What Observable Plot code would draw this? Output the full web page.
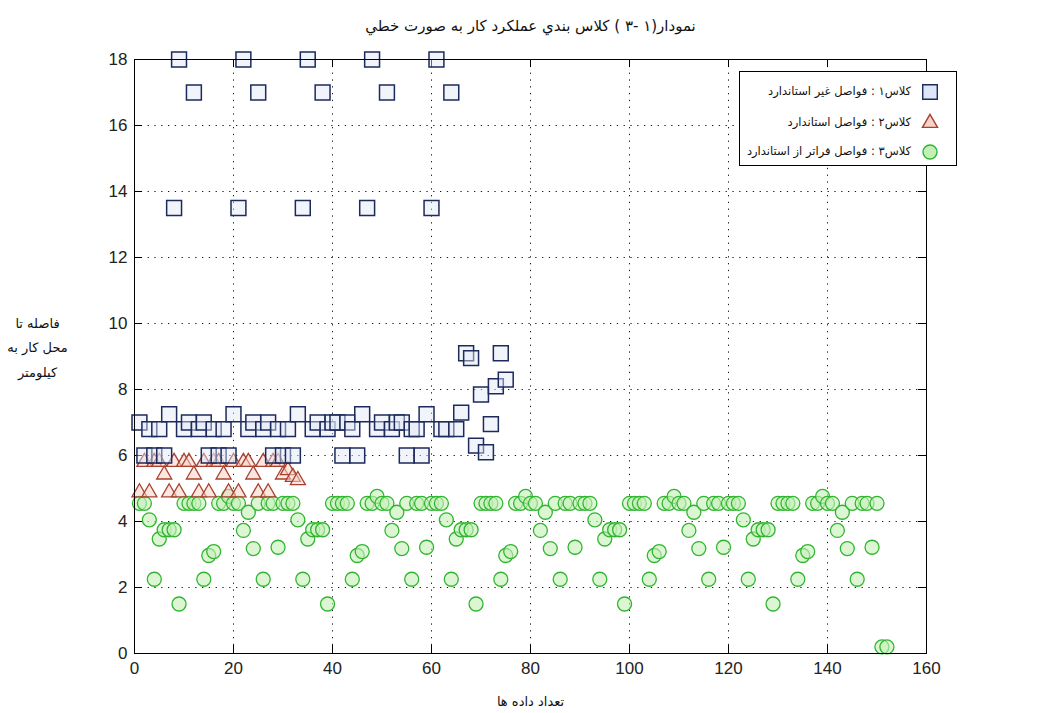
<!DOCTYPE html>
<html>
<head>
<meta charset="utf-8">
<script src="https://cdn.jsdelivr.net/npm/d3@7"></script>
<script src="https://cdn.jsdelivr.net/npm/@observablehq/plot@0.6"></script>
<style>
  html, body { margin: 0; padding: 0; background: #fff; }
  #wrap { position: relative; width: 1055px; height: 713px; }
  #legend {
    position: absolute; left: 739px; top: 71px; width: 218px; height: 95px;
    border: 1px solid #000; background: #fff; box-sizing: border-box;
    font-family: "DejaVu Sans", sans-serif; font-size: 11.5px; color: #111;
  }
  #legend .row { position: absolute; right: 16px; display: flex; align-items: center; gap: 9px; direction: ltr; }
  #legend .row span { direction: rtl; unicode-bidi: isolate; }
</style>
</head>
<body>
<div id="wrap"></div>
<script>
// Class 1: non-standard distances (km), one value per record
const class1 = [
  7.0, 6.0, 6.8, 6.0, 6.8, 6.0, 7.25, 13.5, 18, 6.8, 7.0, 17, 6.8,
  7.0, 6.0, 6.8, 6.0, 6.8, 6.0, 7.25, 13.5, 18, 6.8, 7.0, 17, 6.8,
  7.0, 6.0, 6.8, 6.0, 6.8, 6.0, 7.25, 13.5, 18, 6.8, 7.0, 17, 6.8,
  7.0, 7.0, 6.0, 7.0, 6.8, 6.0, 7.25, 13.5, 18, 6.8, 7.0, 17, 6.8,
  7.0, 7.0, 6.0, 6.8, 6.8, 6.0, 7.25, 13.5, 18, 6.8, 6.8, 17, 6.8,
  7.3, 9.1, 8.95, 6.3, 7.85, 6.1, 6.95, 8.1, 9.1, 8.3
];
// Class 2: standard distances
const class2 = [
  4.88, 5.8, 4.88, 5.8, 5.8, 5.42,
  4.88, 5.8, 4.88, 5.8, 5.8, 5.42,
  4.88, 5.8, 4.88, 5.8, 5.8, 5.42,
  4.88, 5.8, 4.88, 5.8, 5.8, 5.42,
  4.88, 5.8, 4.88, 5.8, 5.8, 5.42,
  5.55, 5.35, 5.25
];
// Class 3: beyond-standard distances
const class3 = [
  4.55, 4.55, 4.05, 2.25, 3.47, 3.75, 3.75, 3.75, 1.5, 4.55, 4.55, 4.55, 4.55, 2.25, 2.97,
  3.09, 4.55, 4.55, 4.76, 4.55, 4.55, 3.73, 4.28, 3.18, 4.55, 2.25, 4.55, 4.55, 3.22, 4.55,
  4.55, 4.55, 4.05, 2.25, 3.47, 3.75, 3.75, 3.75, 1.5, 4.55, 4.55, 4.55, 4.55, 2.25, 2.97,
  3.09, 4.55, 4.55, 4.76, 4.55, 4.55, 3.73, 4.28, 3.18, 4.55, 2.25, 4.55, 4.55, 3.22, 4.55,
  4.55, 4.55, 4.05, 2.25, 3.47, 3.75, 3.75, 3.75, 1.5, 4.55, 4.55, 4.55, 4.55, 2.25, 2.97,
  3.09, 4.55, 4.55, 4.76, 4.55, 4.55, 3.73, 4.28, 3.18, 4.55, 2.25, 4.55, 4.55, 3.22, 4.55,
  4.55, 4.55, 4.05, 2.25, 3.47, 3.75, 3.75, 3.75, 1.5, 4.55, 4.55, 4.55, 4.55, 2.25, 2.97,
  3.09, 4.55, 4.55, 4.76, 4.55, 4.55, 3.73, 4.28, 3.18, 4.55, 2.25, 4.55, 4.55, 3.22, 4.55,
  4.55, 4.55, 4.05, 2.25, 3.47, 3.75, 3.75, 3.75, 1.5, 4.55, 4.55, 4.55, 4.55, 2.25, 2.97,
  3.09, 4.55, 4.55, 4.76, 4.55, 4.55, 3.73, 4.28, 3.18, 4.55, 2.25, 4.55, 4.55, 3.22, 4.55,
  0.2, 0.2
];
const xTicks = [0, 20, 40, 60, 80, 100, 120, 140, 160];
const yTicks = [0, 2, 4, 6, 8, 10, 12, 14, 16, 18];

const titleText = "نمودار(۱ -۳ ) كلاس بندي عملكرد كار به صورت خطي";
const xLabel = "تعداد داده ها";
const yLabelLines = ["فاصله تا", "محل كار به", "كيلومتر"];

const colors = {
  c1: {stroke: "#1d2a5c", fill: "#dfe6f7"},
  c2: {stroke: "#a8402f", fill: "#f7d2c6"},
  c3: {stroke: "#30b530", fill: "#c4f0b8"}
};

const legendItems = [
  {label: "كلاس۱ : فواصل غير استاندارد", symbol: d3.symbolSquare, r: 8.2, ...colors.c1},
  {label: "كلاس۲ : فواصل استاندارد", symbol: d3.symbolTriangle, r: 5.6, ...colors.c2},
  {label: "كلاس۳ : فواصل فراتر از استاندارد", symbol: d3.symbolCircle, r: 7, ...colors.c3}
];

const toPoints = (values) => values.map((v, i) => ({i: i + 1, v}));
const W = 1055, H = 713;
const mL = 134, mR = 129, mT = 59, mB = 60;
const fw = W - mL - mR, fh = H - mT - mB;
const tick = 8;
const grid = {stroke: "#000", strokeWidth: 1, strokeDasharray: "1.3,5.5", strokeOpacity: 0.9};
const persian = {fontFamily: "DejaVu Sans", fill: "#111"};

const chart = Plot.plot({
  width: W, height: H,
  marginLeft: mL, marginRight: mR, marginTop: mT, marginBottom: mB,
  x: {domain: [0, 160], ticks: xTicks},
  y: {domain: [0, 18], ticks: yTicks},
  style: {fontFamily: "'Liberation Sans', Arial, sans-serif", fontSize: "17px", color: "#222", background: "#fff"},
  marks: [
    Plot.ruleX(xTicks.slice(1, -1), {...grid}),
    Plot.ruleY(yTicks.slice(1, -1), {...grid}),
    // inward tick marks on all four sides
    Plot.tickX(xTicks, {x: d => d, stroke: "#000", insetTop: fh - tick}),
    Plot.tickX(xTicks, {x: d => d, stroke: "#000", insetBottom: fh - tick}),
    Plot.tickY(yTicks, {y: d => d, stroke: "#000", insetRight: fw - tick}),
    Plot.tickY(yTicks, {y: d => d, stroke: "#000", insetLeft: fw - tick}),
    Plot.axisX({ticks: xTicks, tickSize: 0, tickPadding: 8, label: null, fontSize: 17}),
    Plot.axisY({ticks: yTicks, tickSize: 0, tickPadding: 7, label: null, fontSize: 17}),
    Plot.dot(toPoints(class3), {x: "i", y: "v", symbol: "circle", r: 7, stroke: colors.c3.stroke, strokeWidth: 1.3, fill: colors.c3.fill, fillOpacity: 0.6}),
    Plot.dot(toPoints(class2), {x: "i", y: "v", symbol: "triangle", r: 5.6, stroke: colors.c2.stroke, strokeWidth: 1.3, fill: colors.c2.fill, fillOpacity: 0.55}),
    Plot.dot(toPoints(class1), {x: "i", y: "v", symbol: "square", r: 8.4, stroke: colors.c1.stroke, strokeWidth: 1.5, fill: colors.c1.fill, fillOpacity: 0.45}),
    Plot.frame({stroke: "#000", strokeWidth: 1}),
    Plot.text([titleText], {frameAnchor: "top", dy: -39, fontSize: 15, ...persian}),
    Plot.text([xLabel], {frameAnchor: "bottom", dy: 52, fontSize: 13, ...persian}),
    Plot.text([yLabelLines.join("\n")], {frameAnchor: "left", dx: -97, dy: -12, fontSize: 13, lineHeight: 1.9, textAnchor: "middle", ...persian})
  ]
});

const wrap = document.getElementById("wrap");
wrap.appendChild(chart);

// legend box over the upper-right corner of the plot
const legend = document.createElement("div");
legend.id = "legend";
const rowsY = [19, 50, 79];
legendItems.forEach((item, k) => {
  const row = document.createElement("div");
  row.className = "row";
  row.style.top = (rowsY[k] - 9) + "px";
  const span = document.createElement("span");
  span.setAttribute("dir", "rtl");
  span.textContent = item.label;
  const sym = d3.create("svg").attr("width", 20).attr("height", 18);
  sym.append("path")
    .attr("transform", "translate(10,10)")
    .attr("d", d3.symbol(item.symbol, Math.PI * item.r * item.r)())
    .attr("fill", item.fill).attr("stroke", item.stroke).attr("stroke-width", 1.4);
  row.appendChild(span);
  row.appendChild(sym.node());
  legend.appendChild(row);
});
wrap.appendChild(legend);
</script>
</body>
</html>
